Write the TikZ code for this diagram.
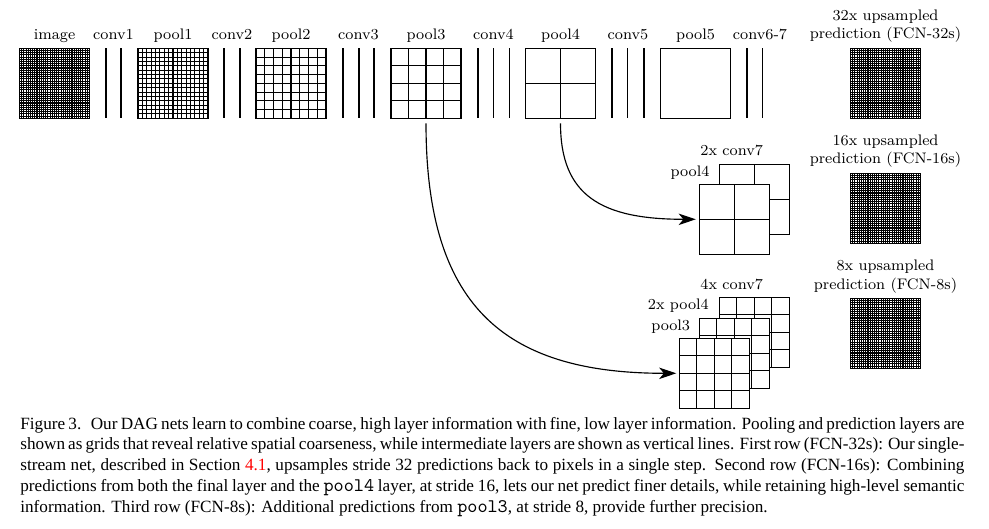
\documentclass[tikz,border=0pt]{standalone}
\usepackage{fontspec}
\newfontfamily\capfont{Liberation Serif}
\newfontfamily\capmono[Scale=1.12]{Latin Modern Mono}
\usetikzlibrary{calc,arrows.meta}
\newcommand{\fgrid}[4]{%
  \node[gridbox] (#1) at (#2+35,#3+35) {};
  \foreach \i in {1,...,#4}{
    \draw[glines] ($(#1.north west)!{\i/#4}!(#1.north east)$) -- ($(#1.south west)!{\i/#4}!(#1.south east)$);
    \draw[glines] ($(#1.north west)!{\i/#4}!(#1.south west)$) -- ($(#1.north east)!{\i/#4}!(#1.south east)$);
  }
}
\begin{document}
\begin{tikzpicture}[x=0.524pt,y=-0.524pt,
  gridbox/.style={draw,fill=white,line width=0.55pt,inner sep=0pt,outer sep=0pt,minimum size=36.68pt},
  glines/.style={line width=0.55pt},
  convline/.style={line width=0.55pt},
  lbl/.style={font=\fontsize{8}{9.6}\selectfont,anchor=base,inner sep=0pt},
  capline/.style={anchor=base west,inner sep=0pt,font=\capfont\fontsize{9}{10.8}\selectfont},
  arr/.style={line width=0.6pt,-{Stealth[length=9pt,width=6pt,inset=2.5pt]}}]
\useasboundingbox (0,0) rectangle (989,528);

% first row
\fgrid{img}{19.5}{48.3}{32}
\fgrid{p1}{138}{48.3}{16}
\fgrid{p2}{256}{48.3}{8}
\fgrid{p3}{391}{48.3}{4}
\fgrid{p4}{525.5}{48.3}{2}
\fgrid{p5}{660.5}{48.3}{1}
\foreach \x in {106,121,224,240,343,359,374,478,493.5,509.5,612,627.5,644,747,762.5}
  \draw[convline] (\x,48.3) -- (\x,118.3);

% predictions
\fgrid{pr32}{850.5}{48.3}{32}
\fgrid{pr16}{850.5}{173.3}{32}
\fgrid{pr8}{850.5}{298.3}{32}

% second stack
\fgrid{s2b}{719.3}{164.3}{2}
\fgrid{s2a}{699.3}{184.3}{2}
% third stack
\fgrid{s3c}{719.3}{297.3}{4}
\fgrid{s3b}{699.3}{318.3}{4}
\fgrid{s3a}{679.3}{338.3}{4}

% labels
\node[lbl] (limg) at (54.5,39) {image};
\node[lbl] (lc1) at (113.5,39) {conv1};
\node[lbl] (lp1) at (173,39) {pool1};
\node[lbl] (lc2) at (232,39) {conv2};
\node[lbl] (lp2) at (291,39) {pool2};
\node[lbl] (lc3) at (358.5,39) {conv3};
\node[lbl] (lp3) at (426,39) {pool3};
\node[lbl] (lc4) at (493.5,39) {conv4};
\node[lbl] (lp4) at (560.5,39) {pool4};
\node[lbl] (lc5) at (628,39) {conv5};
\node[lbl] (lp5) at (695.5,39) {pool5};
\node[lbl] (lc67) at (760,39) {conv6-7};
\node[lbl] (u32a) at (885.5,20.5) {32x upsampled};
\node[lbl] (u32b) at (885.5,38.5) {prediction (FCN-32s)};
\node[lbl] (u16a) at (885.5,145.5) {16x upsampled};
\node[lbl] (u16b) at (885.5,163.8) {prediction (FCN-16s)};
\node[lbl] (u8a) at (885.5,270.3) {8x upsampled};
\node[lbl] (u8b) at (885.5,289) {prediction (FCN-8s)};
\node[lbl] (l2c7) at (731.7,155) {2x conv7};
\node[lbl] (l2p4) at (690,176) {pool4};
\node[lbl] (l4c7) at (731.7,289) {4x conv7};
\node[lbl] (l2xp4) at (678.3,309.3) {2x pool4};
\node[lbl] (l3p3) at (670.7,330) {pool3};

% arrows
\coordinate (a4s) at ($(p4.south)+(0,5)$);
\coordinate (a4e) at ($(s2a.west)+(-3.5,0)$);
\draw[arr] (a4s) .. controls +(0,72) and +(-95,0) .. (a4e);
\coordinate (a3s) at ($(p3.south)+(0,5)$);
\coordinate (a3e) at ($(s3a.west)+(-3,0)$);
\draw[arr] (a3s) .. controls +(0,180) and +(-175,0) .. (a3e);

% caption
\node[capline] (c1) at (20,429) {\makebox[494.7pt][s]{Figure 3.\hskip0.55em Our DAG nets learn to combine coarse, high layer information with fine, low layer information. Pooling and prediction layers are}};
\node[capline] (c2) at (20,449.8) {\makebox[494.7pt][s]{shown as grids that reveal relative spatial coarseness, while intermediate layers are shown as vertical lines. First row (FCN-32s): Our single-}};
\node[capline] (c3) at (20,470.6) {\makebox[494.7pt][s]{stream net, described in Section \textcolor{red}{4.1}, upsamples stride 32 predictions back to pixels in a single step.\hskip0.5em Second row (FCN-16s):\hskip0.4em Combining}};
\node[capline] (c4) at (20,491.4) {\makebox[494.7pt][s]{predictions from both the final layer and the {\capmono pool4} layer, at stride 16, lets our net predict finer details, while retaining high-level semantic}};
\node[capline] (c5) at (20,512.3) {information. Third row (FCN-8s): Additional predictions from {\capmono pool3}, at stride 8, provide further precision.};
\end{tikzpicture}
\end{document}
